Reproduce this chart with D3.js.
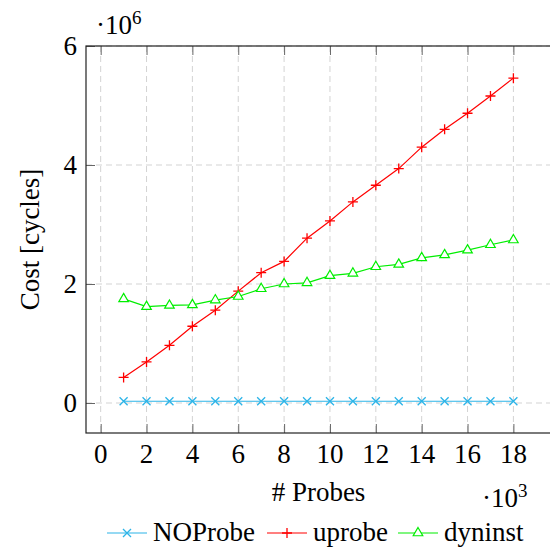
<!DOCTYPE html>
<html>
<head>
<meta charset="utf-8">
<script src="https://cdn.jsdelivr.net/npm/d3@7"></script>
<style>
  body { margin: 0; background: #fff; }
  #chart text { font-family: 'Liberation Serif', 'DejaVu Serif', 'Times New Roman', Times, serif; }
</style>
</head>
<body>
<svg id="chart" width="550" height="548"></svg>
<script>
// Number of probes (in thousands)
const probes = [1, 2, 3, 4, 5, 6, 7, 8, 9, 10, 11, 12, 13, 14, 15, 16, 17, 18];

// Cost in cycles (in millions)
const noProbe = [0.03, 0.03, 0.03, 0.03, 0.03, 0.03, 0.03, 0.03, 0.03, 0.03, 0.03, 0.03, 0.03, 0.03, 0.03, 0.03, 0.03, 0.03];
const uprobe = [0.43, 0.69, 0.97, 1.29, 1.56, 1.88, 2.19, 2.38, 2.77, 3.06, 3.38, 3.66, 3.94, 4.30, 4.60, 4.87, 5.16, 5.46];
const dyninst = [1.75, 1.62, 1.64, 1.65, 1.73, 1.79, 1.92, 2.00, 2.02, 2.14, 2.18, 2.29, 2.33, 2.44, 2.49, 2.57, 2.66, 2.74];

const xTicks = [0, 2, 4, 6, 8, 10, 12, 14, 16, 18];
const yTicks = [0, 2, 4, 6];

const series = [
  { name: "NOProbe", values: noProbe, color: "#2cb4e8", marker: "cross" },
  { name: "uprobe", values: uprobe, color: "#ff0000", marker: "plus" },
  { name: "dyninst", values: dyninst, color: "#00ee00", marker: "triangle" }
];

/*
** LAYOUT
*/
const plotLeft = 86, plotRight = 551, plotTop = 46, plotBottom = 433;
const fontSize = 27;

const svg = d3.select("#chart");

const x = d3.scaleLinear().domain([-0.64, 19.64]).range([plotLeft, plotRight]);
const y = d3.scaleLinear().domain([-0.504, 6]).range([plotBottom, plotTop]);

// Grid
const grid = svg.append("g").attr("stroke", "#d3d3d3").attr("stroke-width", 1).attr("stroke-dasharray", "6,4");
grid.selectAll(".gx").data(xTicks).enter().append("line")
  .attr("x1", d => x(d)).attr("x2", d => x(d))
  .attr("y1", plotTop).attr("y2", plotBottom);
grid.selectAll(".gy").data(yTicks).enter().append("line")
  .attr("y1", d => y(d)).attr("y2", d => y(d))
  .attr("x1", plotLeft).attr("x2", plotRight);

// Axes (ticks inside, drawn with d3 axes)
const xAxisBottom = svg.append("g")
  .attr("transform", `translate(0,${plotBottom})`)
  .call(d3.axisTop(x).tickValues(xTicks).tickSize(9).tickFormat(""));
const xAxisTop = svg.append("g")
  .attr("transform", `translate(0,${plotTop})`)
  .call(d3.axisBottom(x).tickValues(xTicks).tickSize(9).tickFormat(""));
const yAxisLeft = svg.append("g")
  .attr("transform", `translate(${plotLeft},0)`)
  .call(d3.axisRight(y).tickValues(yTicks).tickSize(9).tickFormat(""));

[xAxisBottom, xAxisTop, yAxisLeft].forEach(g => {
  g.select(".domain").remove();
  g.selectAll(".tick line").attr("stroke", "#666").attr("stroke-width", 1);
});

// Frame
svg.append("rect")
  .attr("x", plotLeft).attr("y", plotTop)
  .attr("width", plotRight - plotLeft).attr("height", plotBottom - plotTop)
  .attr("fill", "none").attr("stroke", "#222").attr("stroke-width", 1.2);

// Tick labels
svg.append("g").selectAll("text").data(xTicks).enter().append("text")
  .attr("x", d => x(d)).attr("y", 463)
  .attr("text-anchor", "middle").attr("font-size", fontSize)
  .text(d => d);
svg.append("g").selectAll("text").data(yTicks).enter().append("text")
  .attr("x", 77).attr("y", d => y(d) + 9)
  .attr("text-anchor", "end").attr("font-size", fontSize)
  .text(d => d);

// Scale annotations
const e6 = svg.append("text").attr("x", 96).attr("y", 34).attr("font-size", fontSize);
e6.append("tspan").text("·10");
e6.append("tspan").attr("font-size", 19).attr("dy", -10).text("6");
const e3 = svg.append("text").attr("x", 482).attr("y", 507).attr("font-size", fontSize);
e3.append("tspan").text("·10");
e3.append("tspan").attr("font-size", 19).attr("dy", -10).text("3");

// Axis labels
svg.append("text")
  .attr("x", (plotLeft + plotRight) / 2).attr("y", 501)
  .attr("text-anchor", "middle").attr("font-size", fontSize)
  .text("# Probes");
svg.append("text")
  .attr("transform", `translate(39,${(plotTop + plotBottom) / 2}) rotate(-90)`)
  .attr("text-anchor", "middle").attr("font-size", fontSize)
  .text("Cost [cycles]");

/*
** MARKERS
*/
function drawMarker(g, type, cx, cy, color) {
  if (type === "cross") {
    const r = 4;
    g.append("path")
      .attr("d", `M${cx - r},${cy - r}L${cx + r},${cy + r}M${cx - r},${cy + r}L${cx + r},${cy - r}`)
      .attr("stroke", color).attr("stroke-width", 1.3).attr("fill", "none");
  } else if (type === "plus") {
    const r = 5;
    g.append("path")
      .attr("d", `M${cx - r},${cy}L${cx + r},${cy}M${cx},${cy - r}L${cx},${cy + r}`)
      .attr("stroke", color).attr("stroke-width", 1.3).attr("fill", "none");
  } else {
    const r = 5.5;
    g.append("path")
      .attr("d", `M${cx},${cy - r}L${cx + r * 0.87},${cy + r * 0.5}L${cx - r * 0.87},${cy + r * 0.5}Z`)
      .attr("stroke", color).attr("stroke-width", 1.2).attr("fill", "#fff");
  }
}

// Series
const line = d3.line().x(d => x(d[0])).y(d => y(d[1]));
series.forEach(s => {
  const pts = probes.map((p, i) => [p, s.values[i]]);
  const g = svg.append("g");
  g.append("path")
    .datum(pts)
    .attr("d", line)
    .attr("fill", "none").attr("stroke", s.color).attr("stroke-width", 1.2);
  pts.forEach(p => drawMarker(g, s.marker, x(p[0]), y(p[1]), s.color));
});

/*
** LEGEND
*/
const legendStarts = [107, 267, 398];
const legendY = 533;
series.forEach((s, i) => {
  const lx = legendStarts[i];
  const g = svg.append("g");
  g.append("line")
    .attr("x1", lx).attr("x2", lx + 40)
    .attr("y1", legendY).attr("y2", legendY)
    .attr("stroke", s.color).attr("stroke-width", 1.2);
  drawMarker(g, s.marker, lx + 20, legendY, s.color);
  g.append("text")
    .attr("x", lx + 46).attr("y", 541)
    .attr("font-size", fontSize)
    .text(s.name);
});
</script>
</body>
</html>
